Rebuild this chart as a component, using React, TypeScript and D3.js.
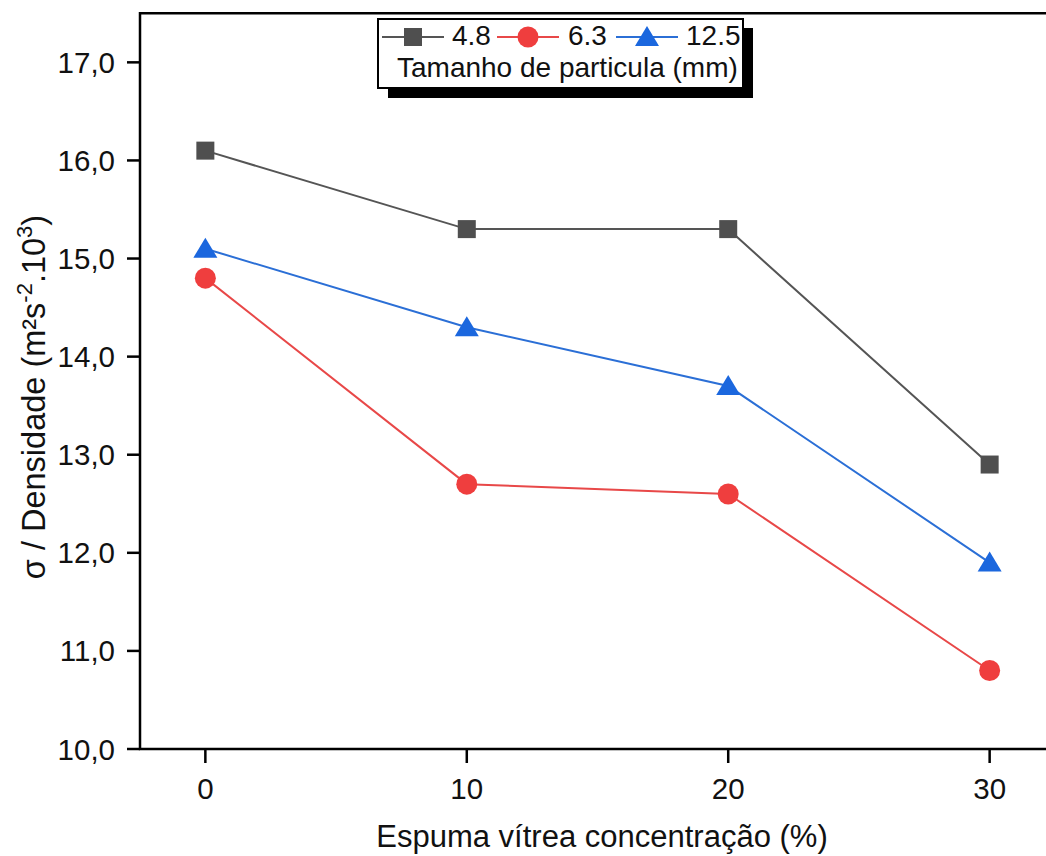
import React from "react";
import * as d3 from "d3";

const concentrations = [0, 10, 20, 30];
const s48 = [16.1, 15.3, 15.3, 12.9];
const s63 = [14.8, 12.7, 12.6, 10.8];
const s125 = [15.1, 14.3, 13.7, 11.9];
const yTicks = [10, 11, 12, 13, 14, 15, 16, 17];
const xTicks = [0, 10, 20, 30];
const seriesNames = ["4.8", "6.3", "12.5"];

const W = 1046, H = 856;
const FONT = "Liberation Sans, Arial, sans-serif";

export default function App() {
  const x = d3.scaleLinear().domain([-2.5, 32.5]).range([140, 1055]);
  const y = d3.scaleLinear().domain([10, 17.5]).range([749, 13.3]);
  const line = d3.line<number>().x((_, i) => x(concentrations[i])).y((d) => y(d));
  const series = [
    { name: seriesNames[0], data: s48, line: "#555555", fill: "#4f4f4f", shape: "square" },
    { name: seriesNames[1], data: s63, line: "#e84848", fill: "#ef3e3e", shape: "circle" },
    { name: seriesNames[2], data: s125, line: "#2b6fd6", fill: "#1b67de", shape: "triangle" },
  ];
  const marker = (shape: string, cx: number, cy: number, fill: string, key?: any) => {
    if (shape === "square") return <rect key={key} x={cx - 9} y={cy - 9} width={18} height={18} fill={fill} />;
    if (shape === "circle") return <circle key={key} cx={cx} cy={cy} r={10.5} fill={fill} />;
    return <path key={key} d={`M${cx},${cy - 11}L${cx + 12},${cy + 9}L${cx - 12},${cy + 9}Z`} fill={fill} />;
  };
  const legendItems = [
    { x0: 382, tx: 452 },
    { x0: 497, tx: 568 },
    { x0: 616, tx: 686 },
  ];
  return (
    <svg width={W} height={H} style={{ position: "absolute", left: 0, top: 0, background: "#fff" }}>
      <rect width={W} height={H} fill="#fff" />
      <path d={`M${x(32.5)},${y(17.5)}H140V749H${x(32.5)}`} fill="none" stroke="#000" strokeWidth={2.5} />
      {yTicks.map((t) => (
        <g key={t}>
          <line x1={127} x2={140} y1={y(t)} y2={y(t)} stroke="#000" strokeWidth={2.5} />
          <text x={115} y={y(t) + 10.5} textAnchor="end" fontFamily={FONT} fontSize={29.5} fill="#111">
            {d3.format(".1f")(t).replace(".", ",")}
          </text>
        </g>
      ))}
      {xTicks.map((t) => (
        <g key={t}>
          <line x1={x(t)} x2={x(t)} y1={749} y2={763} stroke="#000" strokeWidth={2.5} />
          <text x={x(t)} y={799} textAnchor="middle" fontFamily={FONT} fontSize={29.5} fill="#111">{t}</text>
        </g>
      ))}
      <text x={602} y={847} textAnchor="middle" fontFamily={FONT} fontSize={31} fill="#111">
        Espuma vítrea concentração (%)
      </text>
      <text transform="translate(45,397) rotate(-90)" textAnchor="middle" fontFamily={FONT} fontSize={32.5} fill="#111">
        σ / Densidade (m²s<tspan dy={-13} fontSize={22}>-2</tspan><tspan dy={13}>.10</tspan><tspan dy={-13} fontSize={22}>3</tspan><tspan dy={13}>)</tspan>
      </text>
      {series.map((s) => (
        <g key={s.name}>
          <path d={line(s.data) || ""} fill="none" stroke={s.line} strokeWidth={2} />
          {s.data.map((v, i) => marker(s.shape, x(concentrations[i]), y(v), s.fill, i))}
        </g>
      ))}
      <rect x={388} y={28} width={365} height={70} fill="#000" />
      <rect x={378} y={19} width={365} height={69} fill="#fff" stroke="#000" strokeWidth={2} />
      {series.map((s, i) => (
        <g key={s.name}>
          <line x1={legendItems[i].x0} x2={legendItems[i].x0 + 62} y1={37} y2={37} stroke={s.line} strokeWidth={2} />
          {marker(s.shape, legendItems[i].x0 + 31, 37, s.fill)}
          <text x={legendItems[i].tx} y={45} fontFamily={FONT} fontSize={28} fill="#111">{s.name}</text>
        </g>
      ))}
      <text x={397} y={77} fontFamily={FONT} fontSize={28} fill="#111">Tamanho de particula (mm)</text>
    </svg>
  );
}
